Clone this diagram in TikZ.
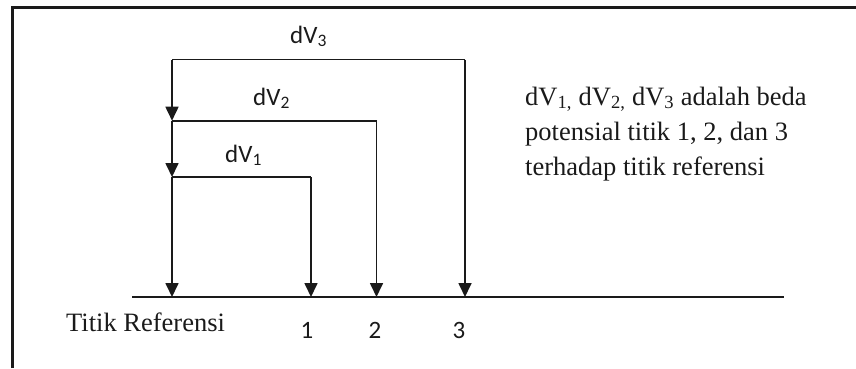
\documentclass[tikz,border=0pt]{standalone}
\usepackage{fontspec}
\setmainfont{Liberation Serif}
\newfontfamily\calib{Carlito}
\usetikzlibrary{arrows.meta}
\definecolor{ink}{HTML}{1A1A1A}
\tikzset{
  wire/.style={draw=ink, line width=1.7pt},
  arr/.style={wire, -{Triangle[length=14pt,width=13pt]}},
  frameline/.style={draw=ink, line width=2.6pt},
  sanslbl/.style={inner sep=0pt, anchor=base west, font=\calib\fontsize{25}{29}\selectfont, text=ink},
  numlbl/.style={inner sep=0pt, anchor=base, font=\calib\fontsize{25}{29}\selectfont, text=ink},
  seriflbl/.style={inner sep=0pt, anchor=base west, font=\fontsize{26.5}{35}\selectfont, text=ink},
}
\begin{document}
\begin{tikzpicture}[x=1pt,y=-1pt]
\useasboundingbox (0,0) rectangle (856,368);
% frame (top and left)
\draw[frameline] (12.5,368) -- (12.5,7.5) -- (856,7.5);
% coordinates
\coordinate (L3) at (172,59.5);
\coordinate (R3) at (465,59.5);
\coordinate (L2) at (172,120.7);
\coordinate (R2) at (376.5,120.7);
\coordinate (L1) at (172,177);
\coordinate (R1) at (311,177);
\coordinate (B0) at (172,297);
\coordinate (B1) at (311,297);
\coordinate (B2) at (376.5,297);
\coordinate (B3) at (465,297);
\coordinate (BL) at (132,297);
\coordinate (BR) at (784,297);
% reference line
\draw[wire] (BL) -- (BR);
% loops
\draw[wire] (L3) -- (R3);
\draw[arr] (R3) -- (B3);
\draw[wire] (L2) -- (R2);
\draw[arr] (R2) -- (B2);
\draw[wire] (L1) -- (R1);
\draw[arr] (R1) -- (B1);
\draw[arr] (L3) -- (L2);
\draw[arr] (L2) -- (L1);
\draw[arr] (L1) -- (B0);
% labels
\node[sanslbl] (dv3) at (290,43) {dV\textsubscript{3}};
\node[sanslbl] (dv2) at (253,105) {dV\textsubscript{2}};
\node[sanslbl] (dv1) at (225,162) {dV\textsubscript{1}};
\node[numlbl] (n1) at (307,338) {1};
\node[numlbl] (n2) at (375,338) {2};
\node[numlbl] (n3) at (459,338) {3};
\node[seriflbl] (tr) at (66,331.5) {Titik Referensi};
\node[seriflbl] (t1) at (525,105) {dV\textsubscript{1,} dV\textsubscript{2,} dV\textsubscript{3} adalah beda};
\node[seriflbl] (t2) at (525,140) {potensial titik 1, 2, dan 3};
\node[seriflbl] (t3) at (525,175) {terhadap titik referensi};
\end{tikzpicture}
\end{document}
